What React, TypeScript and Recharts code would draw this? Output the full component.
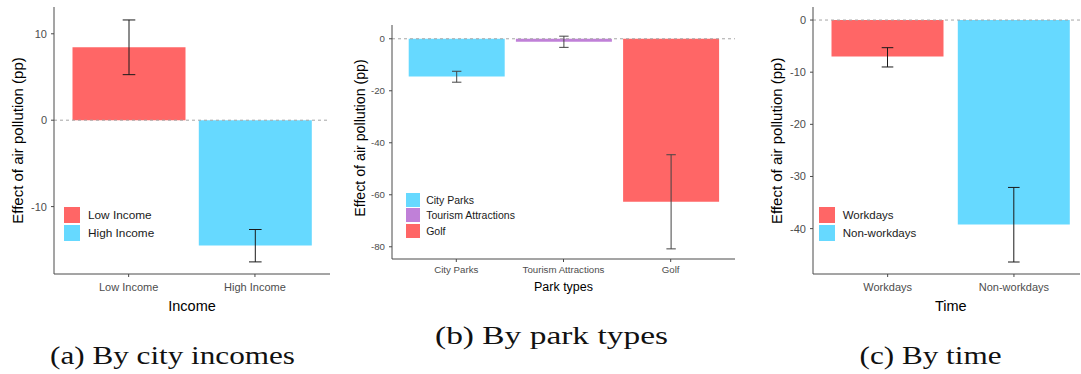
import React from 'react';
import {
  BarChart,
  Bar,
  XAxis,
  YAxis,
  ErrorBar,
  ReferenceLine,
  Cell,
  Legend,
  Label,
} from 'recharts';

const RED = '#FF6666';
const CYAN = '#66D9FF';
const PURPLE = '#C080D8';

// (a) effect by city income group
const incomeCategories = ['Low Income', 'High Income'];
const incomeEstimates = [8.44, -14.5];
const incomeLower = [5.27, -16.4];
const incomeUpper = [11.6, -12.65];
const incomeColors = [RED, CYAN];
const incomeTicks = [-10, 0, 10];

// (b) effect by park type
const parkCategories = ['City Parks', 'Tourism Attractions', 'Golf'];
const parkEstimates = [-14.5, -1.1, -62.7];
const parkLower = [-16.7, -3.3, -80.8];
const parkUpper = [-12.5, 1.0, -44.6];
const parkColors = [CYAN, PURPLE, RED];
const parkTicks = [-80, -60, -40, -20, 0];

// (c) effect by time of week
const timeCategories = ['Workdays', 'Non-workdays'];
const timeEstimates = [-7.0, -39.2];
const timeLower = [-9.0, -46.4];
const timeUpper = [-5.3, -32.1];
const timeColors = [RED, CYAN];
const timeTicks = [-40, -30, -20, -10, 0];

const captions = ['(a) By city incomes', '(b) By park types', '(c) By time'];

const Y_TITLE = 'Effect of air pollution (pp)';
const SANS = '"Liberation Sans", Arial, sans-serif';
const SERIF = '"Liberation Serif", "DejaVu Serif", serif';

type Row = { name: string; value: number; err: [number, number] };

function buildRows(cats: string[], est: number[], lo: number[], hi: number[]): Row[] {
  return cats.map((name, i) => ({
    name,
    value: est[i],
    err: [est[i] - lo[i], hi[i] - est[i]],
  }));
}

type PanelProps = {
  left: number;
  width: number;
  height: number;
  margin: { top: number; right: number; bottom: number; left: number };
  yAxisWidth: number;
  xAxisHeight: number;
  pad: { left: number; right: number };
  barSize: number;
  capHalf: number;
  errColor: string;
  rows: Row[];
  colors: string[];
  domain: [number, number];
  ticks: number[];
  tickFont: number;
  xTickMargin: number;
  xTitle: string;
  xTitlePos: [number, number];
  xTitleFont: number;
  yTitlePos: [number, number];
  yTitleFont: number;
  legend: { x: number; y: number; box: number; pitch: number; gap: number; font: number };
};

function Panel(p: PanelProps) {
  const renderLegend = () => (
    <div style={{ fontFamily: SANS, fontSize: p.legend.font, color: '#1a1a1a' }}>
      {p.rows.map((r, i) => (
        <div
          key={r.name}
          style={{ display: 'flex', alignItems: 'center', height: p.legend.pitch, whiteSpace: 'nowrap' }}
        >
          <div style={{ width: p.legend.box, height: p.legend.box, background: p.colors[i], flex: 'none' }} />
          <span style={{ marginLeft: p.legend.gap }}>{r.name}</span>
        </div>
      ))}
    </div>
  );

  return (
    <div style={{ position: 'absolute', left: p.left, top: 0, width: p.width, height: p.height }}>
      <BarChart width={p.width} height={p.height} data={p.rows} margin={p.margin}>
        <XAxis
          dataKey="name"
          type="category"
          height={p.xAxisHeight}
          padding={p.pad}
          axisLine={{ stroke: '#4a4a4a', strokeWidth: 1 }}
          tickLine={{ stroke: '#4a4a4a' }}
          tickSize={3}
          tickMargin={p.xTickMargin}
          tick={{ fill: '#4D4D4D', fontSize: p.tickFont, fontFamily: SANS }}
          interval={0}
        >
          <Label
            content={() => (
              <text
                x={p.xTitlePos[0]}
                y={p.xTitlePos[1]}
                textAnchor="middle"
                dominantBaseline="central"
                fontFamily={SANS}
                fontSize={p.xTitleFont}
                fill="#000"
              >
                {p.xTitle}
              </text>
            )}
          />
        </XAxis>
        <YAxis
          type="number"
          width={p.yAxisWidth}
          domain={p.domain}
          ticks={p.ticks}
          allowDataOverflow
          interval={0}
          axisLine={{ stroke: '#4a4a4a', strokeWidth: 1 }}
          tickLine={{ stroke: '#4a4a4a' }}
          tickSize={3}
          tickMargin={4}
          tick={{ fill: '#4D4D4D', fontSize: p.tickFont, fontFamily: SANS }}
        >
          <Label
            content={() => (
              <text
                x={p.yTitlePos[0]}
                y={p.yTitlePos[1]}
                textAnchor="middle"
                dominantBaseline="central"
                transform={`rotate(-90, ${p.yTitlePos[0]}, ${p.yTitlePos[1]})`}
                fontFamily={SANS}
                fontSize={p.yTitleFont}
                fill="#000"
              >
                {Y_TITLE}
              </text>
            )}
          />
        </YAxis>
        <ReferenceLine y={0} stroke="#A6A6A6" strokeDasharray="3 3" strokeWidth={1} ifOverflow="extendDomain" />
        <Bar dataKey="value" barSize={p.barSize} isAnimationActive={false}>
          {p.rows.map((r, i) => (
            <Cell key={r.name} fill={p.colors[i]} />
          ))}
          <ErrorBar
            dataKey="err"
            direction="y"
            width={p.capHalf}
            stroke={p.errColor}
            strokeWidth={1}
            isAnimationActive={false}
          />
        </Bar>
        <Legend
          layout="vertical"
          align="center"
          verticalAlign="middle"
          wrapperStyle={{ left: p.legend.x, top: p.legend.y, width: 'auto', height: 'auto' }}
          content={renderLegend}
        />
      </BarChart>
    </div>
  );
}

function Caption({ text, x, baseline, width }: { text: string; x: number; baseline: number; width: number }) {
  return (
    <svg style={{ position: 'absolute', left: 0, top: 0, overflow: 'visible' }} width={1} height={1}>
      <text
        x={x}
        y={baseline}
        fontFamily={SERIF}
        fontSize={26}
        fill="#111"
        textLength={width}
        lengthAdjust="spacingAndGlyphs"
      >
        {text}
      </text>
    </svg>
  );
}

export default function App() {
  const incomeRows = buildRows(incomeCategories, incomeEstimates, incomeLower, incomeUpper);
  const parkRows = buildRows(parkCategories, parkEstimates, parkLower, parkUpper);
  const timeRows = buildRows(timeCategories, timeEstimates, timeLower, timeUpper);

  return (
    <div
      style={{
        position: 'absolute',
        left: 0,
        top: 0,
        width: 1081,
        height: 374,
        background: '#fff',
        overflow: 'hidden',
      }}
    >
      <Panel
        left={0}
        width={340}
        height={320}
        margin={{ top: 7, right: 10, bottom: 0, left: 0 }}
        yAxisWidth={54}
        xAxisHeight={46}
        pad={{ left: 11.5, right: 11.9 }}
        barSize={113}
        capHalf={6.3}
        errColor="#1a1a1a"
        rows={incomeRows}
        colors={incomeColors}
        domain={[-17.8, 13.1]}
        ticks={incomeTicks}
        tickFont={11}
        xTickMargin={6}
        xTitle="Income"
        xTitlePos={[192, 306]}
        xTitleFont={14.5}
        yTitlePos={[17.5, 140.5]}
        yTitleFont={15}
        legend={{ x: 64, y: 206, box: 16, pitch: 18, gap: 8, font: 11.8 }}
      />
      <Panel
        left={340}
        width={400}
        height={320}
        margin={{ top: 25, right: 5, bottom: 0, left: 0 }}
        yAxisWidth={52}
        xAxisHeight={61}
        pad={{ left: 10.7, right: 10.7 }}
        barSize={96}
        capHalf={4.7}
        errColor="#444"
        rows={parkRows}
        colors={parkColors}
        domain={[-84.7, 5.3]}
        ticks={parkTicks}
        tickFont={9.7}
        xTickMargin={4}
        xTitle="Park types"
        xTitlePos={[223.5, 287.3]}
        xTitleFont={12.5}
        yTitlePos={[20, 138]}
        yTitleFont={14.2}
        legend={{ x: 65.7, y: 192.5, box: 14, pitch: 15.3, gap: 6.5, font: 10.5 }}
      />
      <Panel
        left={740}
        width={341}
        height={320}
        margin={{ top: 7, right: 1, bottom: 0, left: 0 }}
        yAxisWidth={73}
        xAxisHeight={46}
        pad={{ left: 11.5, right: 2.9 }}
        barSize={112}
        capHalf={5.8}
        errColor="#1a1a1a"
        rows={timeRows}
        colors={timeColors}
        domain={[-48.7, 2.5]}
        ticks={timeTicks}
        tickFont={11}
        xTickMargin={6}
        xTitle="Time"
        xTitlePos={[210.8, 306]}
        xTitleFont={14.5}
        yTitlePos={[36.7, 140.8]}
        yTitleFont={15}
        legend={{ x: 78.7, y: 206, box: 16, pitch: 18, gap: 8, font: 11.5 }}
      />
      <Caption text={captions[0]} x={50} baseline={363.5} width={245} />
      <Caption text={captions[1]} x={435} baseline={343.5} width={233} />
      <Caption text={captions[2]} x={859.5} baseline={363.5} width={142} />
    </div>
  );
}
